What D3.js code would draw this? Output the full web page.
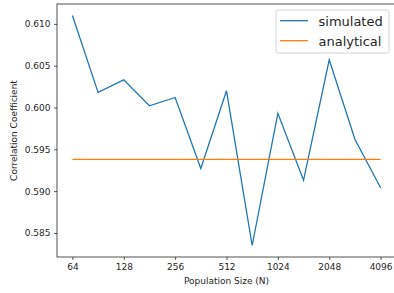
<!DOCTYPE html>
<html>
<head>
<meta charset="utf-8">
<script src="https://cdn.jsdelivr.net/npm/d3@7"></script>
<style>
body { margin: 0; background: #fff; }
text { font-family: "DejaVu Sans", sans-serif; fill: #262626; }
</style>
</head>
<body>
<div id="chart"></div>
<script>
var svgWidth = 394;
var svgHeight = 293;

// population sizes: 2^6 .. 2^12 in half-octave steps
var popSizes = [64, 90.5, 128, 181, 256, 362, 512, 724, 1024, 1448, 2048, 2896, 4096];
var simulated = [0.6110, 0.6018, 0.6033, 0.6002, 0.6012, 0.5927, 0.6020, 0.5835, 0.5993, 0.5913, 0.6057, 0.5962, 0.5904];
var analytical = [0.5938, 0.5938, 0.5938, 0.5938, 0.5938, 0.5938, 0.5938, 0.5938, 0.5938, 0.5938, 0.5938, 0.5938, 0.5938];
var xTicks = [64, 128, 256, 512, 1024, 2048, 4096];
var yTicks = [0.585, 0.590, 0.595, 0.600, 0.605, 0.610];
var seriesNames = ["simulated", "analytical"];
var colors = ["#1f77b4", "#ff7f0e"];

var margin = { top: 4, right: -2, bottom: 36, left: 57 };
var width = svgWidth - margin.left - margin.right;
var height = svgHeight - margin.top - margin.bottom;

var svg = d3.select("#chart")
    .append("svg")
    .attr("width", svgWidth)
    .attr("height", svgHeight);

var chartGroup = svg.append("g")
    .attr("transform", `translate(${margin.left}, ${margin.top})`);

// matplotlib style 5% padding on both axes
var lx0 = Math.log2(64), lx1 = Math.log2(4096);
var padX = (lx1 - lx0) * 0.05;
var xScale = d3.scaleLog().base(2)
    .domain([Math.pow(2, lx0 - padX), Math.pow(2, lx1 + padX)])
    .range([0, width]);

var yMin = d3.min(simulated.concat(analytical));
var yMax = d3.max(simulated.concat(analytical));
var padY = (yMax - yMin) * 0.05;
var yScale = d3.scaleLinear()
    .domain([yMin - padY, yMax + padY])
    .range([height, 0]);

var xAxis = d3.axisBottom(xScale)
    .tickValues(xTicks)
    .tickFormat(d3.format("d"))
    .tickSize(3)
    .tickPadding(4);

var yAxis = d3.axisLeft(yScale)
    .tickValues(yTicks)
    .tickFormat(d3.format(".3f"))
    .tickSize(3)
    .tickPadding(3.5);

var gx = chartGroup.append("g")
    .attr("transform", `translate(0, ${height})`)
    .call(xAxis);
var gy = chartGroup.append("g").call(yAxis);

[gx, gy].forEach(g => {
    g.select(".domain").remove();
    g.selectAll("line").attr("stroke", "#262626").attr("stroke-width", 0.8);
    g.selectAll("text").attr("font-size", 9).attr("fill", "#262626");
});

// frame
chartGroup.append("rect")
    .attr("x", 0)
    .attr("y", 0)
    .attr("width", width)
    .attr("height", height)
    .attr("fill", "none")
    .attr("stroke", "#262626")
    .attr("stroke-width", 0.8);

var line = d3.line()
    .x((d, i) => xScale(popSizes[i]))
    .y(d => yScale(d));

[simulated, analytical].forEach((series, i) => {
    chartGroup.append("path")
        .datum(series)
        .attr("d", line)
        .attr("fill", "none")
        .attr("stroke", colors[i])
        .attr("stroke-width", 1.3);
});

// labels
chartGroup.append("text")
    .attr("x", xScale(Math.sqrt(64 * 4096)))
    .attr("y", height + 27)
    .attr("text-anchor", "middle")
    .attr("font-size", 9)
    .text("Population Size (N)");

chartGroup.append("text")
    .attr("transform", "rotate(-90)")
    .attr("x", -height / 2)
    .attr("y", -40)
    .attr("text-anchor", "middle")
    .attr("font-size", 9)
    .text("Correlation Coefficient");

// legend
var legend = svg.append("g")
    .attr("transform", "translate(276, 10)");

legend.append("rect")
    .attr("width", 113)
    .attr("height", 43)
    .attr("rx", 2)
    .attr("fill", "#fff")
    .attr("fill-opacity", 0.8)
    .attr("stroke", "#cccccc")
    .attr("stroke-width", 0.8);

seriesNames.forEach((name, i) => {
    legend.append("line")
        .attr("x1", 4)
        .attr("x2", 32)
        .attr("y1", 10.7 + i * 20)
        .attr("y2", 10.7 + i * 20)
        .attr("stroke", colors[i])
        .attr("stroke-width", 1.3);
    legend.append("text")
        .attr("x", 42.5)
        .attr("y", 16 + i * 20)
        .attr("font-size", 13)
        .text(name);
});
</script>
</body>
</html>
